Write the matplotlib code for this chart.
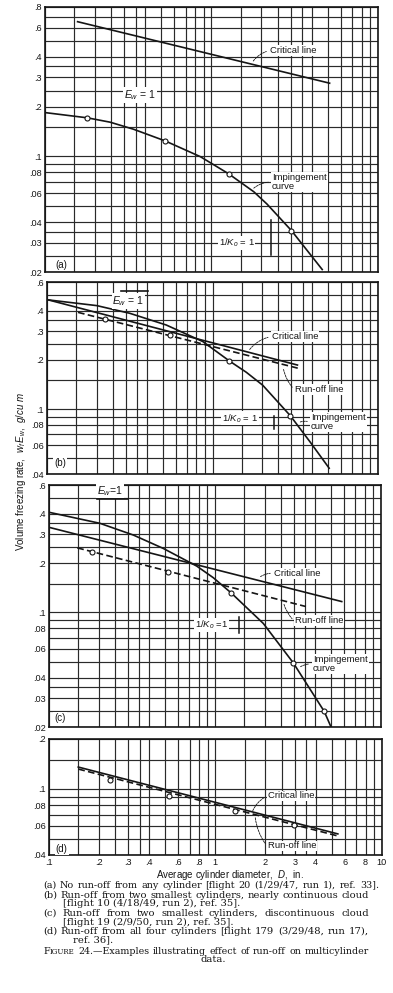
import matplotlib
matplotlib.use('Agg')
import matplotlib.pyplot as plt
from matplotlib.lines import Line2D
from matplotlib.patches import FancyArrowPatch

plt.rcParams['font.family'] = ['Liberation Sans', 'DejaVu Sans']
plt.rcParams['mathtext.fontset'] = 'custom'
plt.rcParams['mathtext.rm'] = 'Liberation Sans'
plt.rcParams['mathtext.it'] = 'Liberation Sans:italic'

# ---------------- data ----------------
x_grid = [0.1, 0.15, 0.2, 0.25, 0.3, 0.35, 0.4, 0.5, 0.6, 0.7, 0.8, 0.9,
          1, 1.5, 2, 2.5, 3, 3.5, 4, 5, 6, 7, 8, 9, 10]
x_ticks = [0.1, 0.2, 0.3, 0.4, 0.6, 0.8, 1, 2, 3, 4, 6, 8, 10]
x_ticklabels = ['.1', '.2', '.3', '.4', '.6', '.8', '1', '2', '3', '4', '6', '8', '10']

y_grid_all = [0.02, 0.025, 0.03, 0.035, 0.04, 0.05, 0.06, 0.07, 0.08, 0.09,
              0.1, 0.15, 0.2, 0.25, 0.3, 0.35, 0.4, 0.5, 0.6, 0.7, 0.8]

# panel (a)
a_ylim = (0.02, 0.8)
a_yticks = [0.02, 0.03, 0.04, 0.06, 0.08, 0.1, 0.2, 0.3, 0.4, 0.6, 0.8]
a_yticklabels = ['.02', '.03', '.04', '.06', '.08', '.1', '.2', '.3', '.4', '.6', '.8']
a_crit_x = [0.157, 5.14]
a_crit_y = [0.652, 0.277]
a_imp_x = [0.1, 0.18, 0.246, 0.34, 0.528, 0.859, 1.27, 1.80, 2.16, 3.03, 4.64]
a_imp_y = [0.184, 0.171, 0.161, 0.146, 0.124, 0.0996, 0.0785, 0.0611, 0.0515, 0.0356, 0.0207]
a_pts_x = [0.18, 0.528, 1.27, 3.03]
a_pts_y = [0.171, 0.124, 0.0785, 0.0356]

# panel (b)
b_ylim = (0.04, 0.6)
b_yticks = [0.04, 0.06, 0.08, 0.1, 0.2, 0.3, 0.4, 0.6]
b_yticklabels = ['.04', '.06', '.08', '.1', '.2', '.3', '.4', '.6']
b_crit_x = [0.102, 3.26]
b_crit_y = [0.466, 0.186]
b_run_x = [0.154, 3.42]
b_run_y = [0.391, 0.176]
b_imp_x = [0.102, 0.2, 0.316, 0.526, 0.874, 1.265, 1.6, 2.01, 2.95, 3.9, 5.07]
b_imp_y = [0.466, 0.43, 0.386, 0.327, 0.259, 0.197, 0.168, 0.140, 0.0911, 0.0626, 0.0434]
b_pts_x = [0.224, 0.556, 1.265, 2.95]
b_pts_y = [0.355, 0.284, 0.197, 0.0911]

# panel (c)
c_ylim = (0.02, 0.6)
c_yticks = [0.02, 0.03, 0.04, 0.06, 0.08, 0.1, 0.2, 0.3, 0.4, 0.6]
c_yticklabels = ['.02', '.03', '.04', '.06', '.08', '.1', '.2', '.3', '.4', '.6']
c_crit_x = [0.1, 5.8]
c_crit_y = [0.331, 0.1166]
c_run_x = [0.148, 3.53]
c_run_y = [0.248, 0.1087]
c_imp_x = [0.1, 0.203, 0.322, 0.488, 0.776, 0.977, 1.248, 1.955, 2.96, 4.55, 5.0]
c_imp_y = [0.409, 0.35, 0.297, 0.246, 0.192, 0.163, 0.132, 0.0857, 0.0493, 0.0249, 0.02]
c_pts_x = [0.181, 0.523, 1.248, 2.96, 4.55]
c_pts_y = [0.2346, 0.177, 0.132, 0.0493, 0.0249]

# panel (d)
d_ylim = (0.04, 0.2)
d_yticks = [0.04, 0.06, 0.08, 0.1, 0.2]
d_yticklabels = ['.04', '.06', '.08', '.1', '.2']
d_crit_x = [0.150, 5.45]
d_crit_y = [0.1355, 0.0536]
d_run_x = [0.150, 5.45]
d_run_y = [0.1318, 0.0521]
d_pts_x = [0.233, 0.523, 1.32, 2.96]
d_pts_y = [0.1135, 0.0905, 0.0741, 0.0607]

caption_lines = [
    "(a) No run-off from any cylinder [flight 20 (1/29/47, run 1), ref. 33].",
    "(b) Run-off from two smallest cylinders, nearly continuous cloud",
    "[flight 10 (4/18/49, run 2), ref. 35].",
    "(c) Run-off from two smallest cylinders, discontinuous cloud",
    "[flight 19 (2/9/50, run 2), ref. 35].",
    "(d) Run-off from all four cylinders [flight 179 (3/29/48, run 17),",
    "ref. 36].",
    "FIGURE 24.\u2014Examples illustrating effect of run-off on multicylinder",
    "data.",
]

# ---------------- figure ----------------
W, H = 393, 993
fig = plt.figure(figsize=(W / 100, H / 100), dpi=100)
fig.patch.set_facecolor('white')

def rect(l, t, r, b):
    return [l / W, 1 - b / H, (r - l) / W, (b - t) / H]

def fp(px, py):
    return (px / W, 1 - py / H)

INK = '#151515'
GRIDC = '#2a2a2a'

def setup(ax, ylim, yticks, ylabels, show_x):
    ax.set_xscale('log'); ax.set_yscale('log')
    ax.set_xlim(0.1, 10); ax.set_ylim(*ylim)
    ax.set_xticks(x_ticks)
    ax.set_xticks(x_grid, minor=True)
    ax.set_yticks(yticks)
    ax.set_yticks([v for v in y_grid_all if ylim[0] <= v <= ylim[1]], minor=True)
    ax.set_yticklabels(ylabels)
    if show_x:
        ax.set_xticklabels(x_ticklabels)
    else:
        ax.set_xticklabels([])
    ax.set_xticklabels([], minor=True)
    ax.set_yticklabels([], minor=True)
    ax.tick_params(which='both', length=0, labelsize=6.6, pad=2.5, colors=INK)
    ax.grid(True, which='both', color=GRIDC, lw=0.85)
    for s in ax.spines.values():
        s.set_linewidth(1.2); s.set_color(INK)
    ax.set_axisbelow(True)

LW = 1.2
DASH = (0, (4, 2))

def circles(ax, xs, ys):
    ax.plot(xs, ys, 'o', ms=3.6, mfc='white', mec=INK, mew=0.8, zorder=5)

def label(text, px, py, ha='left', size=6.8):
    fig.text(*fp(px, py), text, ha=ha, va='center', fontsize=size, color=INK,
             bbox=dict(fc='white', ec='none', pad=0.6), zorder=10)

def leader(text, curve_px, text_px, ha='left', rad=-0.2, size=6.8):
    fig.text(*fp(*text_px), text, ha=ha, va='center', fontsize=size, color=INK,
             linespacing=1.0, bbox=dict(fc='white', ec='none', pad=0.6), zorder=10)
    fig.add_artist(FancyArrowPatch(
        fp(*curve_px), fp(text_px[0] - (1 if ha == 'left' else 0), text_px[1]),
        transform=fig.transFigure, arrowstyle='-', lw=0.6,
        linestyle=(0, (2.5, 1.2)), color=INK,
        connectionstyle=f'arc3,rad={rad}', zorder=9))

def vline(px, py0, py1, lw=1.0):
    fig.add_artist(Line2D([px / W, px / W], [1 - py0 / H, 1 - py1 / H],
                          transform=fig.transFigure, color=INK, lw=lw, zorder=11))

def hline(px0, px1, py, lw=1.0):
    fig.add_artist(Line2D([px0 / W, px1 / W], [1 - py / H, 1 - py / H],
                          transform=fig.transFigure, color=INK, lw=lw, zorder=11))

# ---- (a)
ax = fig.add_axes(rect(45, 7, 377.7, 272))
setup(ax, a_ylim, a_yticks, a_yticklabels, False)
ax.plot(a_crit_x, a_crit_y, color=INK, lw=LW)
ax.plot(a_imp_x, a_imp_y, color=INK, lw=LW)
circles(ax, a_pts_x, a_pts_y)
label('$E_w$ = 1', 140, 95, ha='center', size=7.5)
leader('Critical line', (251.7, 63.3), (270, 50.7))
leader('Impingement\ncurve', (251.7, 190), (272, 182), rad=-0.2)
label('1/$K_o$ = 1', 236.7, 242.7, ha='center', size=6.8)
vline(270.7, 220, 255, lw=1.1)
label('(a)', 61.7, 265, ha='center', size=7)

# ---- (b)
ax = fig.add_axes(rect(47, 282, 378, 474))
setup(ax, b_ylim, b_yticks, b_yticklabels, False)
ax.plot(b_crit_x, b_crit_y, color=INK, lw=LW)
ax.plot(b_run_x, b_run_y, color=INK, lw=LW, ls=DASH)
ax.plot(b_imp_x, b_imp_y, color=INK, lw=LW)
circles(ax, b_pts_x, b_pts_y)
label('$E_w$ = 1', 128.3, 301, ha='center', size=7.5)
hline(121, 148.3, 290.7, lw=1.2)
leader('Critical line', (248, 351.7), (271.7, 336.7))
leader('Run-off line', (283, 366.7), (295, 389.3), rad=0.15)
leader('Impingement\ncurve', (297.7, 423), (311, 422), rad=-0.2)
label('1/$K_o$ = 1', 240, 418.3, ha='center', size=6.8)
vline(274, 415.5, 429, lw=1.1)
label('(b)', 60, 463.3, ha='center', size=7)

# ---- (c)
ax = fig.add_axes(rect(49, 485, 381, 727))
setup(ax, c_ylim, c_yticks, c_yticklabels, False)
ax.plot(c_crit_x, c_crit_y, color=INK, lw=LW)
ax.plot(c_run_x, c_run_y, color=INK, lw=LW, ls=DASH)
ax.plot(c_imp_x, c_imp_y, color=INK, lw=LW)
circles(ax, c_pts_x, c_pts_y)
label('$E_w$=1', 110, 490.7, ha='center', size=7.5)
hline(96.7, 128.3, 499.3, lw=1.2)
leader('Critical line', (258.3, 578.3), (274, 573.3))
leader('Run-off line', (283.3, 601.7), (295, 620.7), rad=0.15)
leader('Impingement\ncurve', (298.3, 668.3), (313, 664), rad=-0.2)
label('1/$K_o$ =1', 211.7, 625, ha='center', size=6.8)
vline(239.3, 616.7, 633.3, lw=1.1)
label('(c)', 60, 718.3, ha='center', size=7)

# ---- (d)
ax = fig.add_axes(rect(49, 739, 381.7, 855))
setup(ax, d_ylim, d_yticks, d_yticklabels, True)
ax.plot(d_crit_x, d_crit_y, color=INK, lw=LW)
ax.plot(d_run_x, d_run_y, color=INK, lw=LW, ls=DASH)
circles(ax, d_pts_x, d_pts_y)
leader('Critical line', (251.7, 813.3), (268, 796))
leader('Run-off line', (255, 815), (268, 846), rad=0.15)
label('(d)', 61.7, 849.3, ha='center', size=7)

# axis titles
fig.text(*fp(230, 875), 'Average cylinder diameter,  $D$,  in.', ha='center', va='center',
         fontsize=7, color=INK)
fig.text(*fp(21, 471), 'Volume freezing rate,  $w_f\\,E_w$,  $g/cu\\ m$', ha='center', va='center',
         rotation=90, fontsize=7, color=INK)

# caption (justified lines are spread between x0 and x1)
SERIF = ['DejaVu Serif', 'Liberation Serif']
CAP_SIZE = 7.2
MIN_GAP = 3.5
renderer = fig.canvas.get_renderer()

def word_pieces(w, size):
    # "FIGURE" is set in small capitals
    if w == 'FIGURE':
        return [('F', size), ('IGURE', size * 0.76)]
    return [(w, size)]

def make_words(words, size):
    out = []
    for w in words:
        pieces = []
        total = 0.0
        for txt, sz in word_pieces(w, size):
            t = fig.text(0, 0, txt, ha='left', va='baseline', fontsize=sz,
                         family=SERIF, color=INK)
            wd = t.get_window_extent(renderer).width
            pieces.append((t, wd))
            total += wd
        out.append((pieces, total))
    return out

def cap_line(txt, x0, y, x1=None, ha='left'):
    yb = y + 2.6  # baseline from visual centre
    if x1 is None:
        fig.text(*fp(x0, yb), txt, ha=ha, va='baseline', fontsize=CAP_SIZE,
                 family=SERIF, color=INK)
        return
    words = txt.split()
    size = CAP_SIZE
    objs = make_words(words, size)
    natural = sum(o[1] for o in objs)
    n = len(words) - 1
    if natural + n * MIN_GAP > x1 - x0:
        for pieces, _ in objs:
            for t, _ in pieces:
                t.remove()
        size = size * (x1 - x0 - n * MIN_GAP) / natural
        objs = make_words(words, size)
        natural = sum(o[1] for o in objs)
    gap = (x1 - x0 - natural) / n
    x = x0
    for pieces, total in objs:
        xx = x
        for t, wd in pieces:
            t.set_position(fp(xx, yb))
            xx += wd
        x += total + gap

cap_y = [885, 895, 903.5, 913, 922, 931, 940, 951, 959.5]
cap_x = [43, 43, 63, 43, 63, 43, 73, 43, 213]
cap_x1 = [379, 369, None, 369, None, 369, None, 369, None]
for i, txt in enumerate(caption_lines):
    cap_line(txt, cap_x[i], cap_y[i], cap_x1[i], ha='center' if i == 8 else 'left')

fig.savefig('out.png', dpi=100, facecolor='white')
